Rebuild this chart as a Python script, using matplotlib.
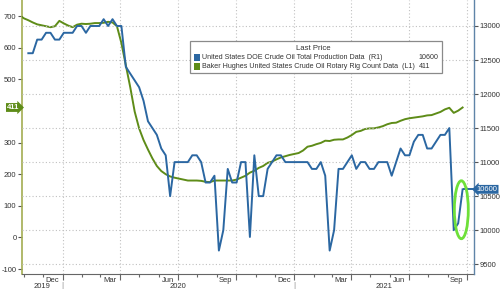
import matplotlib
matplotlib.use('Agg')
import matplotlib.pyplot as plt
import matplotlib.dates as mdates
import matplotlib.transforms as mtransforms
from matplotlib.patches import Ellipse, Rectangle
import numpy as np
import pandas as pd

plt.rcParams['font.family'] = ['Liberation Sans', 'DejaVu Sans']

# weekly points, Friday dates as they sit on the Bloomberg chart
weeks = pd.date_range('2019-10-25', '2021-09-24', freq='W-FRI')

# Baker Hughes US oil rig count (left axis), one value per week
rigs = [703, 693, 687, 680, 674, 671, 668, 665, 668, 685,
        677, 670, 665, 673, 676, 675, 676, 678, 678, 679,
        682, 680, 668, 615, 545, 475, 398, 345, 308, 278,
        250, 226, 210, 200, 193, 189, 186, 183, 180, 180,
        180, 179, 176, 175, 180, 180, 180, 180, 180, 183,
        189, 195, 205, 211, 220, 226, 236, 240, 247, 253,
        257, 261, 264, 267, 275, 287, 290, 295, 299, 306,
        305, 309, 310, 310, 316, 324, 334, 337, 343, 345,
        345, 348, 352, 358, 362, 363, 369, 374, 377, 379,
        381, 383, 386, 387, 392, 397, 405, 410, 394, 401,
        411]

# DOE crude oil total production, kb/d (right axis), starts two weeks later
prod = [12600, 12600, 12800, 12800, 12900, 12900, 12800, 12800,
        12900, 12900, 12900, 13000, 13000, 12900, 13000, 13000,
        13000, 13100, 13000, 13100, 13000, 13000, 12400, 12300,
        12200, 12100, 11900, 11600, 11500, 11400, 11200, 11100,
        10500, 11000, 11000, 11000, 11000, 11100, 11100, 11000,
        10700, 10700, 10800, 9700, 10000, 10900, 10700, 10700,
        11000, 11000, 9900, 11100, 10500, 10500, 10900, 11000,
        11100, 11100, 11000, 11000, 11000, 11000, 11000, 11000,
        10900, 10900, 11000, 10800, 9700, 10000, 10900, 10900,
        11000, 11100, 10900, 11000, 11000, 10900, 10900, 11000,
        11000, 11000, 10800, 11000, 11200, 11100, 11100, 11300,
        11400, 11400, 11200, 11200, 11300, 11400, 11400, 11500,
        10000, 10100, 10600]
prod_weeks = weeks[len(weeks) - len(prod):]

rig_ticks = [-100, 0, 100, 200, 300, 500, 600, 700]
prod_ticks = [9500, 10000, 10500, 11000, 11500, 12000, 12500, 13000]

name_prod = 'United States DOE Crude Oil Total Production Data  (R1)'
name_rigs = 'Baker Hughes United States Crude Oil Rotary Rig Count Data  (L1)'

blue = '#2b67a2'
green = '#5e8c18'
lime = '#6ee03a'
txt = '#333333'

fig = plt.figure(figsize=(5, 2.91), dpi=100)
ax = fig.add_axes([0.044, 0.058, 0.904, 0.942])
ax2 = ax.twinx()

ax.plot(weeks, rigs, color=green, lw=1.4, zorder=3)
ax2.plot(prod_weeks, prod, color=blue, lw=1.4, zorder=3)

x0 = pd.Timestamp('2019-10-29')
x1 = pd.Timestamp('2021-10-12')
ax.set_xlim(x0, x1)
ax.set_ylim(-116, 751)
ax2.set_ylim(9354, 13382)

# connector from the last production point to the right axis
ax2.hlines(prod[-1], prod_weeks[-1], x1, color=blue, lw=1.4, zorder=3)

# x axis: quarter ticks long, month ticks short, labels as text
quarters = pd.date_range('2020-01-01', '2021-10-01', freq='QS')
months = pd.date_range('2019-11-01', '2021-10-01', freq='MS')
ax.set_xticks(quarters)
ax.set_xticks(months, minor=True)
ax.set_xticklabels([])
ax.tick_params(axis='x', which='major', length=4, width=0.8, color='#666666', direction='out')
ax.tick_params(axis='x', which='minor', length=2, width=0.8, color='#666666', direction='out')
ax.grid(axis='x', which='major', color='#c0c0c0', ls=(0, (1, 2)), lw=0.8)

trans = mtransforms.blended_transform_factory(ax.transData, ax.transAxes)
for q in quarters:
    lab = (q - pd.Timedelta(days=16)).strftime('%b')
    ax.text(q - pd.Timedelta(days=16), -0.01, lab, transform=trans, ha='center',
            va='top', fontsize=5.5, color=txt)
year_mid = [x0 + (pd.Timestamp('2020-01-01') - x0) / 2,
            pd.Timestamp('2020-07-01'),
            pd.Timestamp('2021-01-01') + (x1 - pd.Timestamp('2021-01-01')) / 2]
for ym, yr in zip(year_mid, ['2019', '2020', '2021']):
    ax.text(ym, -0.034, yr, transform=trans, ha='center', va='top', fontsize=5.5, color=txt)
for yb in ['2020-01-01', '2021-01-01']:
    ax.text(pd.Timestamp(yb), -0.028, '|', transform=trans, ha='center', va='top',
            fontsize=6, color='#888888')

# left axis
ax.set_yticks(rig_ticks)
ax.set_yticklabels([str(v) for v in rig_ticks])
ax.tick_params(axis='y', length=3, width=0.8, color='#555555', labelsize=5.5,
               labelcolor=txt, pad=1)

# right axis
ax2.set_yticks(prod_ticks)
ax2.set_yticklabels([str(v) for v in prod_ticks])
ax2.tick_params(axis='y', length=3, width=0.8, color='#555555', labelsize=5.5,
                labelcolor=txt, pad=1)
ax2.grid(axis='y', color='#c0c0c0', ls=(0, (1, 2)), lw=0.8, zorder=0)

for a in (ax, ax2):
    a.spines['top'].set_visible(False)
ax.spines['left'].set_color('#a3ad52')
ax.spines['left'].set_linewidth(1.2)
ax2.spines['right'].set_color('#5f84a8')
ax2.spines['right'].set_linewidth(1.0)
ax2.spines['left'].set_visible(False)
ax.spines['right'].set_visible(False)
ax.spines['bottom'].set_color('#666666')
ax2.spines['bottom'].set_visible(False)

# last value tags
ax.annotate(str(rigs[-1]), xy=(-0.006, rigs[-1]), xycoords=('axes fraction', 'data'),
            ha='right', va='center', fontsize=5.5, color='white', fontweight='bold',
            bbox=dict(boxstyle='rarrow,pad=0.12', fc=green, ec='none'),
            annotation_clip=False)
ax2.annotate(str(prod[-1]), xy=(1.006, prod[-1]), xycoords=('axes fraction', 'data'),
             ha='left', va='center', fontsize=5.5, color='white',
             bbox=dict(boxstyle='larrow,pad=0.12', fc=blue, ec='none'),
             annotation_clip=False, zorder=6)

# highlight ring round the last three production points
cx = mdates.date2num(prod_weeks[-1]) - 2
cy = (prod[-3] + prod[-1]) / 2
ring = Ellipse((cx, cy), width=22, height=(prod[-1] - prod[-3]) * 1.42,
               fill=False, ec=lime, lw=2, zorder=5)
ax2.add_patch(ring)

# legend box
lx0, lx1, ly0, ly1 = 0.372, 0.929, 0.735, 0.852
ax2.add_patch(Rectangle((lx0, ly0), lx1 - lx0, ly1 - ly0, transform=ax2.transAxes,
                        fc='white', ec='#8a8a8a', lw=0.9, zorder=7))
ax2.text((lx0 + lx1) / 2 - 0.005, 0.822, 'Last Price', transform=ax2.transAxes,
         ha='center', va='center', fontsize=5.6, color=txt, zorder=8)
for yy, col, name, val in [(0.791, blue, name_prod, prod[-1]),
                           (0.758, green, name_rigs, rigs[-1])]:
    ax2.add_patch(Rectangle((lx0 + 0.008, yy - 0.012), 0.013, 0.024,
                            transform=ax2.transAxes, fc=col, ec='none', zorder=8))
    ax2.text(lx0 + 0.026, yy, name, transform=ax2.transAxes, ha='left', va='center',
             fontsize=5.1, color=txt, zorder=8)
    ax2.text(0.878, yy, str(val), transform=ax2.transAxes, ha='left', va='center',
             fontsize=5.1, color=txt, zorder=8)

fig.savefig('out.png', dpi=100)
